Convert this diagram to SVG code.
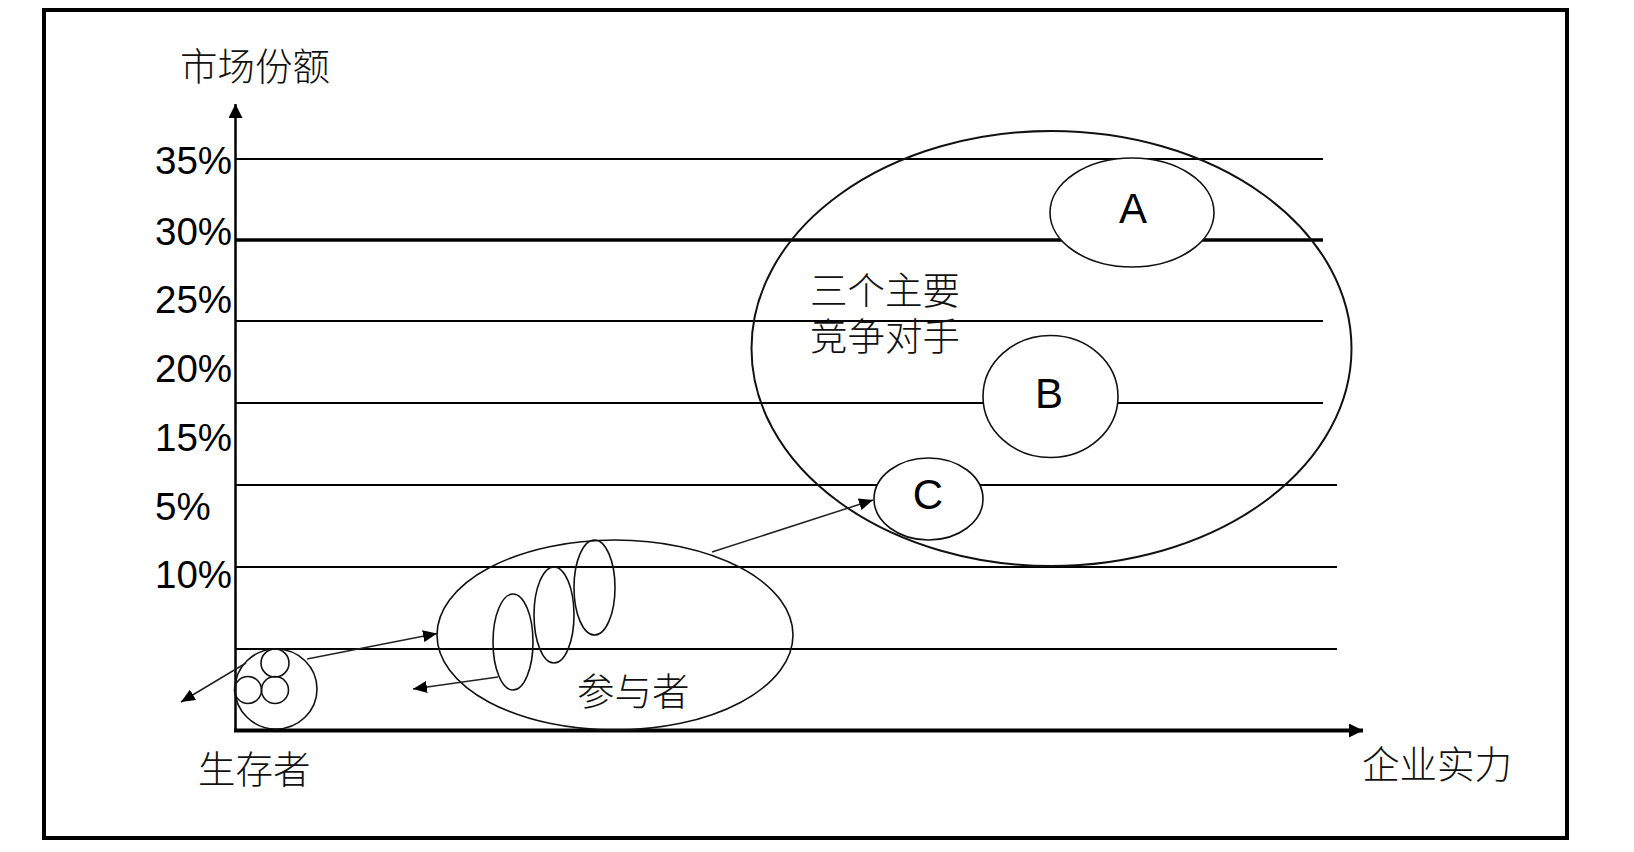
<svg xmlns="http://www.w3.org/2000/svg" width="1634" height="852" viewBox="0 0 1634 852">
<style>
.frame{fill:none;stroke:#000;stroke-width:4}
.grid{stroke:#000;stroke-width:2}
.ell{fill:none;stroke:#111;stroke-width:1.6}
.node{fill:#fff;stroke:#111;stroke-width:1.6}
.big{fill:none;stroke:#111;stroke-width:2}
.conn{stroke:#222;stroke-width:1.5;fill:none}
.pct{font-family:"Liberation Sans",Arial,sans-serif;font-size:38.5px;fill:#000}
.let{font-family:"Liberation Sans",Arial,sans-serif;font-size:42px;fill:#000;text-anchor:middle}
.cjk{font-family:"Noto Sans CJK SC",sans-serif;font-size:37.5px;font-weight:300;fill:#111}
</style>
<defs>
<marker id="ah" markerUnits="userSpaceOnUse" markerWidth="16" markerHeight="12" refX="14" refY="6" orient="auto">
<path d="M0,0 L14,6 L0,12 Z" fill="#000"/>
</marker>
<marker id="axh" markerUnits="userSpaceOnUse" markerWidth="16" markerHeight="16" refX="14" refY="7" orient="auto">
<path d="M0,0 L14,7 L0,14 Z" fill="#000"/>
</marker>
</defs>
<rect width="1634" height="852" fill="#fff"/>
<rect class="frame" x="44" y="10" width="1523" height="828"/>

<g id="grid">
<line class="grid" x1="235" y1="159" x2="1323" y2="159"/>
<line class="grid" x1="235" y1="240" x2="1323" y2="240" style="stroke-width:3.5"/>
<line class="grid" x1="235" y1="321" x2="1323" y2="321"/>
<line class="grid" x1="235" y1="403" x2="1323" y2="403"/>
<line class="grid" x1="235" y1="485" x2="1337" y2="485"/>
<line class="grid" x1="235" y1="567" x2="1337" y2="567"/>
<line class="grid" x1="235" y1="649" x2="1337" y2="649"/>
</g>

<g id="axes">
<line x1="235.5" y1="731" x2="235.5" y2="104" stroke="#000" stroke-width="2.5" marker-end="url(#axh)"/>
<line x1="234" y1="730.5" x2="1363" y2="730.5" stroke="#000" stroke-width="4" marker-end="url(#axh)"/>
</g>

<g id="labels">
<text class="pct" x="155" y="174">35%</text>
<text class="pct" x="155" y="245">30%</text>
<text class="pct" x="155" y="313">25%</text>
<text class="pct" x="155" y="382">20%</text>
<text class="pct" x="155" y="451">15%</text>
<text class="pct" x="155" y="520">5%</text>
<text class="pct" x="155" y="588">10%</text>
<text class="cjk" x="180" y="80">市场份额</text>
<text class="cjk" x="198" y="783">生存者</text>
<text class="cjk" x="1362" y="778">企业实力</text>
</g>

<g id="nodeA">
<ellipse class="node" cx="1132" cy="212.5" rx="82" ry="54.5"/>
<text class="let" x="1133" y="223">A</text>
</g>
<g id="nodeB">
<ellipse class="node" cx="1050.5" cy="396.5" rx="67.5" ry="61"/>
<text class="let" x="1049" y="408">B</text>
</g>
<g id="nodeC">
<ellipse class="node" cx="928.5" cy="499" rx="54.5" ry="41"/>
<text class="let" x="928" y="509">C</text>
</g>
<g id="competitors">
<ellipse class="big" cx="1051.5" cy="348.5" rx="300" ry="217.5"/>
<text class="cjk" x="810" y="304">三个主要<tspan x="810" dy="46">竞争对手</tspan></text>
</g>

<g id="participants">
<ellipse class="ell" cx="615" cy="635" rx="178" ry="95"/>
<ellipse class="ell" cx="513" cy="642" rx="20" ry="48"/>
<ellipse class="ell" cx="554" cy="615" rx="20" ry="48"/>
<ellipse class="ell" cx="594.5" cy="587.5" rx="20.5" ry="47.5"/>
<text class="cjk" x="577" y="705">参与者</text>
</g>

<g id="survivors">
<ellipse class="ell" cx="276" cy="689" rx="41" ry="40"/>
<circle class="ell" cx="275" cy="663" r="14"/>
<circle class="ell" cx="248" cy="690" r="13.5"/>
<circle class="ell" cx="275" cy="690" r="13.5"/>
</g>

<g id="connectors">
<line class="conn" x1="307" y1="659" x2="437" y2="633.5" marker-end="url(#ah)"/>
<line class="conn" x1="246" y1="663" x2="181" y2="702" marker-end="url(#ah)"/>
<line class="conn" x1="498" y1="677" x2="413" y2="689" marker-end="url(#ah)"/>
<line class="conn" x1="712" y1="552" x2="873" y2="500" marker-end="url(#ah)"/>
</g>
</svg>
